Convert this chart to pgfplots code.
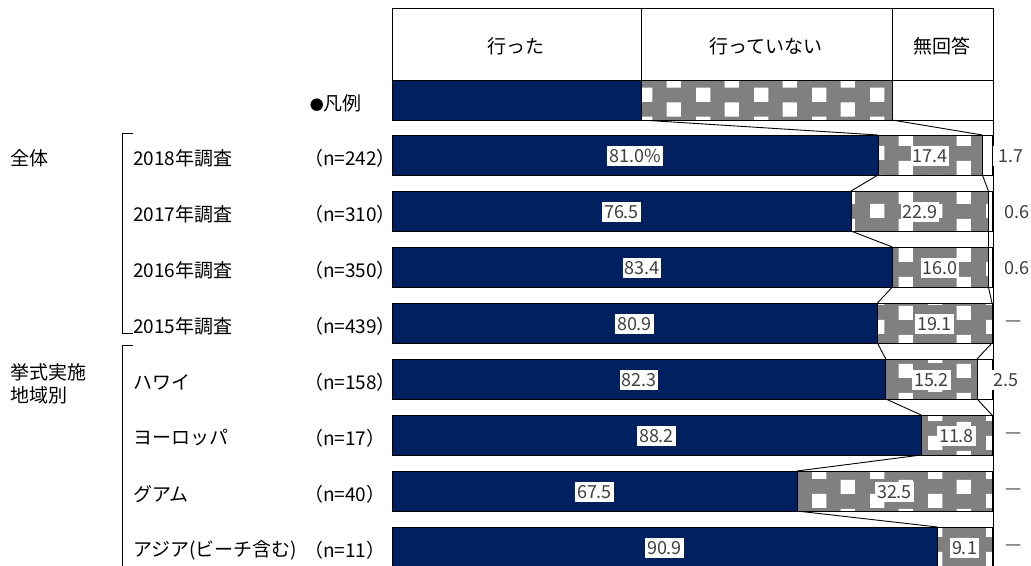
\documentclass[border=0pt]{standalone}
\usepackage{fontspec}
\setmainfont{Noto Sans CJK JP}
\usepackage{pgfplots}
\pgfplotsset{compat=1.18}
\usetikzlibrary{patterns}

\definecolor{navy}{HTML}{002060}
\definecolor{pgray}{HTML}{808080}
\definecolor{numc}{HTML}{404040}

% gray with white squares, like the Excel fill
\pgfdeclarepatternformonly{xlcheck}{\pgfpointorigin}{\pgfpoint{58pt}{29pt}}{\pgfpoint{58pt}{29pt}}{%
  \pgfpathrectangle{\pgfpointorigin}{\pgfpoint{14.5pt}{14.5pt}}%
  \pgfpathrectangle{\pgfpoint{29pt}{14.5pt}}{\pgfpoint{14.5pt}{14.5pt}}%
  \pgfusepath{fill}}

\tikzset{
  num/.style={fill=white, text=numc, inner xsep=2pt, inner ysep=3pt, font=\fontsize{18}{20}\selectfont},
  lab/.style={font=\fontsize{19}{22}\selectfont, inner sep=0pt},
  pat/.style={fill=pgray, postaction={pattern=xlcheck, pattern color=white}},
}
\newcommand\conn[4]{\draw[line width=0.9pt] (axis cs:#1,#2) -- (axis cs:#3,#4);}

\begin{document}
\begin{tikzpicture}
\begin{axis}[
  name=main, at={(0,0)}, anchor=south west,
  width=1031pt, height=566pt, scale only axis,
  xmin=-65.3333, xmax=106.5, ymin=0, ymax=566, y dir=reverse,
  hide axis, clip=false,
  xbar stacked, bar width=40,
]
% 行った
\addplot[fill=navy, draw=black, line width=0.9pt] coordinates {
  (81.0,155) (76.5,211) (83.4,267) (80.9,323) (82.3,379) (88.2,435) (67.5,491) (90.9,547)};
% 行っていない
\addplot[pat, draw=black, line width=0.9pt] coordinates {
  (17.4,155) (22.9,211) (16.0,267) (19.1,323) (15.2,379) (11.8,435) (32.5,491) (9.1,547)};
% 無回答
\addplot[fill=white, draw=black, line width=0.9pt] coordinates {
  (1.7,155) (0.6,211) (0.6,267) (0,323) (2.5,379) (0,435) (0,491) (0,547)};

% legend row -> first bar
\conn{41.5}{120}{81.0}{135}
\conn{83.33}{120}{98.4}{135}
% between bars
\conn{81.0}{175}{76.5}{191} \conn{98.4}{175}{99.4}{191}
\conn{76.5}{231}{83.4}{247} \conn{99.4}{231}{99.4}{247}
\conn{83.4}{287}{80.9}{303} \conn{99.4}{287}{100}{303}
\conn{80.9}{343}{82.3}{359} \conn{100}{343}{97.5}{359}
\conn{82.3}{399}{88.2}{415} \conn{97.5}{399}{100}{415}
\conn{88.2}{455}{67.5}{471}
\conn{67.5}{511}{90.9}{527}
\end{axis}

\begin{scope}[shift={(main.north west)}, x=1pt, y=-1pt]
  % header table and legend row
  \draw[line width=0.9pt] (392,8) rectangle (993,80);
  \fill[navy] (392,80) rectangle (641,120);
  \path[pat] (641,80) rectangle (892,120);
  \draw[line width=0.9pt] (392,80) rectangle (993,120);
  \draw[line width=0.9pt] (641,8) -- (641,120) (892,8) -- (892,120);
  \draw[line width=0.9pt] (993,120) -- (993,566);
  \node[lab] at (516,46) {行った};
  \node[lab] at (766,46) {行っていない};
  \node[lab] at (942,46) {無回答};
  \node[lab, anchor=east] at (362,103) {{\fontsize{14}{16}\selectfont ●}凡例};

  % bar labels (centre of each segment, x = 392 + 6*value)
  \node[num] at (635,156) {81.0\%};   \node[num] at (930,156) {17.4};
  \node[num] at (621.5,212) {76.5};   \node[num] at (920,212) {22.9};
  \node[num] at (642,268) {83.4};     \node[num] at (940,268) {16.0};
  \node[num] at (634.5,324) {80.9};   \node[num] at (934.5,324) {19.1};
  \node[num] at (639,380) {82.3};     \node[num] at (931.5,380) {15.2};
  \node[num] at (656.5,436) {88.2};   \node[num] at (956.5,436) {11.8};
  \node[num] at (594.5,492) {67.5};   \node[num] at (894.5,492) {32.5};
  \node[num] at (664.5,548) {90.9};   \node[num] at (964.5,548) {9.1};

  % values of 無回答
  \node[num, inner xsep=6pt] at (1011,156) {1.7};
  \node[num] at (1017,212) {0.6};
  \node[num] at (1017,268) {0.6};
  \node[num] at (1014,324) {—};
  \node[num, inner xsep=6pt] at (1006,380) {2.5};
  \node[num] at (1014,436) {—};
  \node[num] at (1014,492) {—};
  \node[num] at (1014,548) {—};

  % brackets and groups
  \draw[line width=0.9pt] (133,133) -- (122,133) -- (122,333) -- (133,333);
  \draw[line width=0.9pt] (133,345) -- (122,345) -- (122,566);
  \node[lab, anchor=west] at (10,158) {全体};
  \node[lab, anchor=west] at (10,372) {挙式実施};
  \node[lab, anchor=west] at (10,395) {地域別};

  % categories
  \node[lab, anchor=west] at (133,158) {2018年調査};
  \node[lab, anchor=west] at (133,214) {2017年調査};
  \node[lab, anchor=west] at (133,270) {2016年調査};
  \node[lab, anchor=west] at (133,326) {2015年調査};
  \node[lab, anchor=west] at (133,382) {ハワイ};
  \node[lab, anchor=west] at (133,438) {ヨーロッパ};
  \node[lab, anchor=west] at (133,494) {グアム};
  \node[lab, anchor=west] at (133,550) {アジア(ビーチ含む)};
  \node[lab, anchor=west] at (304,158) {（n=242）};
  \node[lab, anchor=west] at (304,214) {（n=310）};
  \node[lab, anchor=west] at (304,270) {（n=350）};
  \node[lab, anchor=west] at (304,326) {（n=439）};
  \node[lab, anchor=west] at (304,382) {（n=158）};
  \node[lab, anchor=west] at (304,438) {（n=17）};
  \node[lab, anchor=west] at (304,494) {（n=40）};
  \node[lab, anchor=west] at (304,550) {（n=11）};
\end{scope}
\pgfresetboundingbox
\path (main.south west) rectangle (main.north east);
\end{tikzpicture}
\end{document}
